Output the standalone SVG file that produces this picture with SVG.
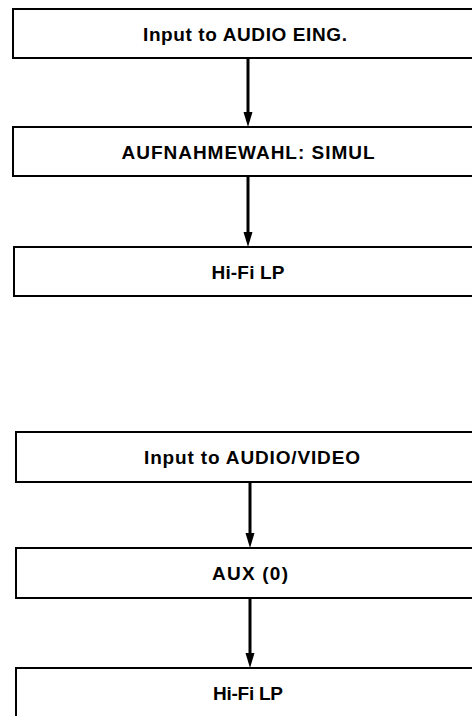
<svg xmlns="http://www.w3.org/2000/svg" width="472" height="716" viewBox="0 0 472 716">
<style>
.box{fill:#fff;stroke:#000;stroke-width:2}
.lbl{font-family:"Liberation Sans",Arial,sans-serif;font-weight:bold;font-size:19px;fill:#000;text-anchor:middle}
.conn{stroke:#000;stroke-width:3;fill:none}
.head{fill:#000}
</style>
<rect width="472" height="716" fill="#fff"/>
<g id="connectors">
<line class="conn" x1="248" y1="58" x2="248" y2="114"/>
<path class="head" d="M243.5,112 L252.5,112 L248,127 Z"/>
<line class="conn" x1="248" y1="176" x2="248" y2="234"/>
<path class="head" d="M243.5,232 L252.5,232 L248,247 Z"/>
<line class="conn" x1="250" y1="482" x2="250" y2="535"/>
<path class="head" d="M245.5,533 L254.5,533 L250,548 Z"/>
<line class="conn" x1="250" y1="598" x2="250" y2="655"/>
<path class="head" d="M245.5,653 L254.5,653 L250,668 Z"/>
</g>
<g id="n1">
<rect class="box" x="13" y="9" width="470" height="49"/>
<text class="lbl" x="245" y="40.5" textLength="204" lengthAdjust="spacing">Input to AUDIO EING.</text>
</g>
<g id="n2">
<rect class="box" x="13" y="127" width="470" height="49"/>
<text class="lbl" x="248" y="158.5" textLength="253" lengthAdjust="spacing">AUFNAHMEWAHL: SIMUL</text>
</g>
<g id="n3">
<rect class="box" x="14" y="247" width="470" height="49"/>
<text class="lbl" x="248" y="278.5" textLength="73" lengthAdjust="spacing">Hi-Fi LP</text>
</g>
<g id="n4">
<rect class="box" x="16" y="432" width="470" height="50"/>
<text class="lbl" x="252" y="464" textLength="216" lengthAdjust="spacing">Input to AUDIO/VIDEO</text>
</g>
<g id="n5">
<rect class="box" x="16" y="548" width="470" height="50"/>
<text class="lbl" x="250" y="580" textLength="76" lengthAdjust="spacing">AUX (0)</text>
</g>
<g id="n6">
<rect class="box" x="16" y="668" width="470" height="60"/>
<text class="lbl" x="248" y="700" textLength="70" lengthAdjust="spacing">Hi-Fi LP</text>
</g>
</svg>
